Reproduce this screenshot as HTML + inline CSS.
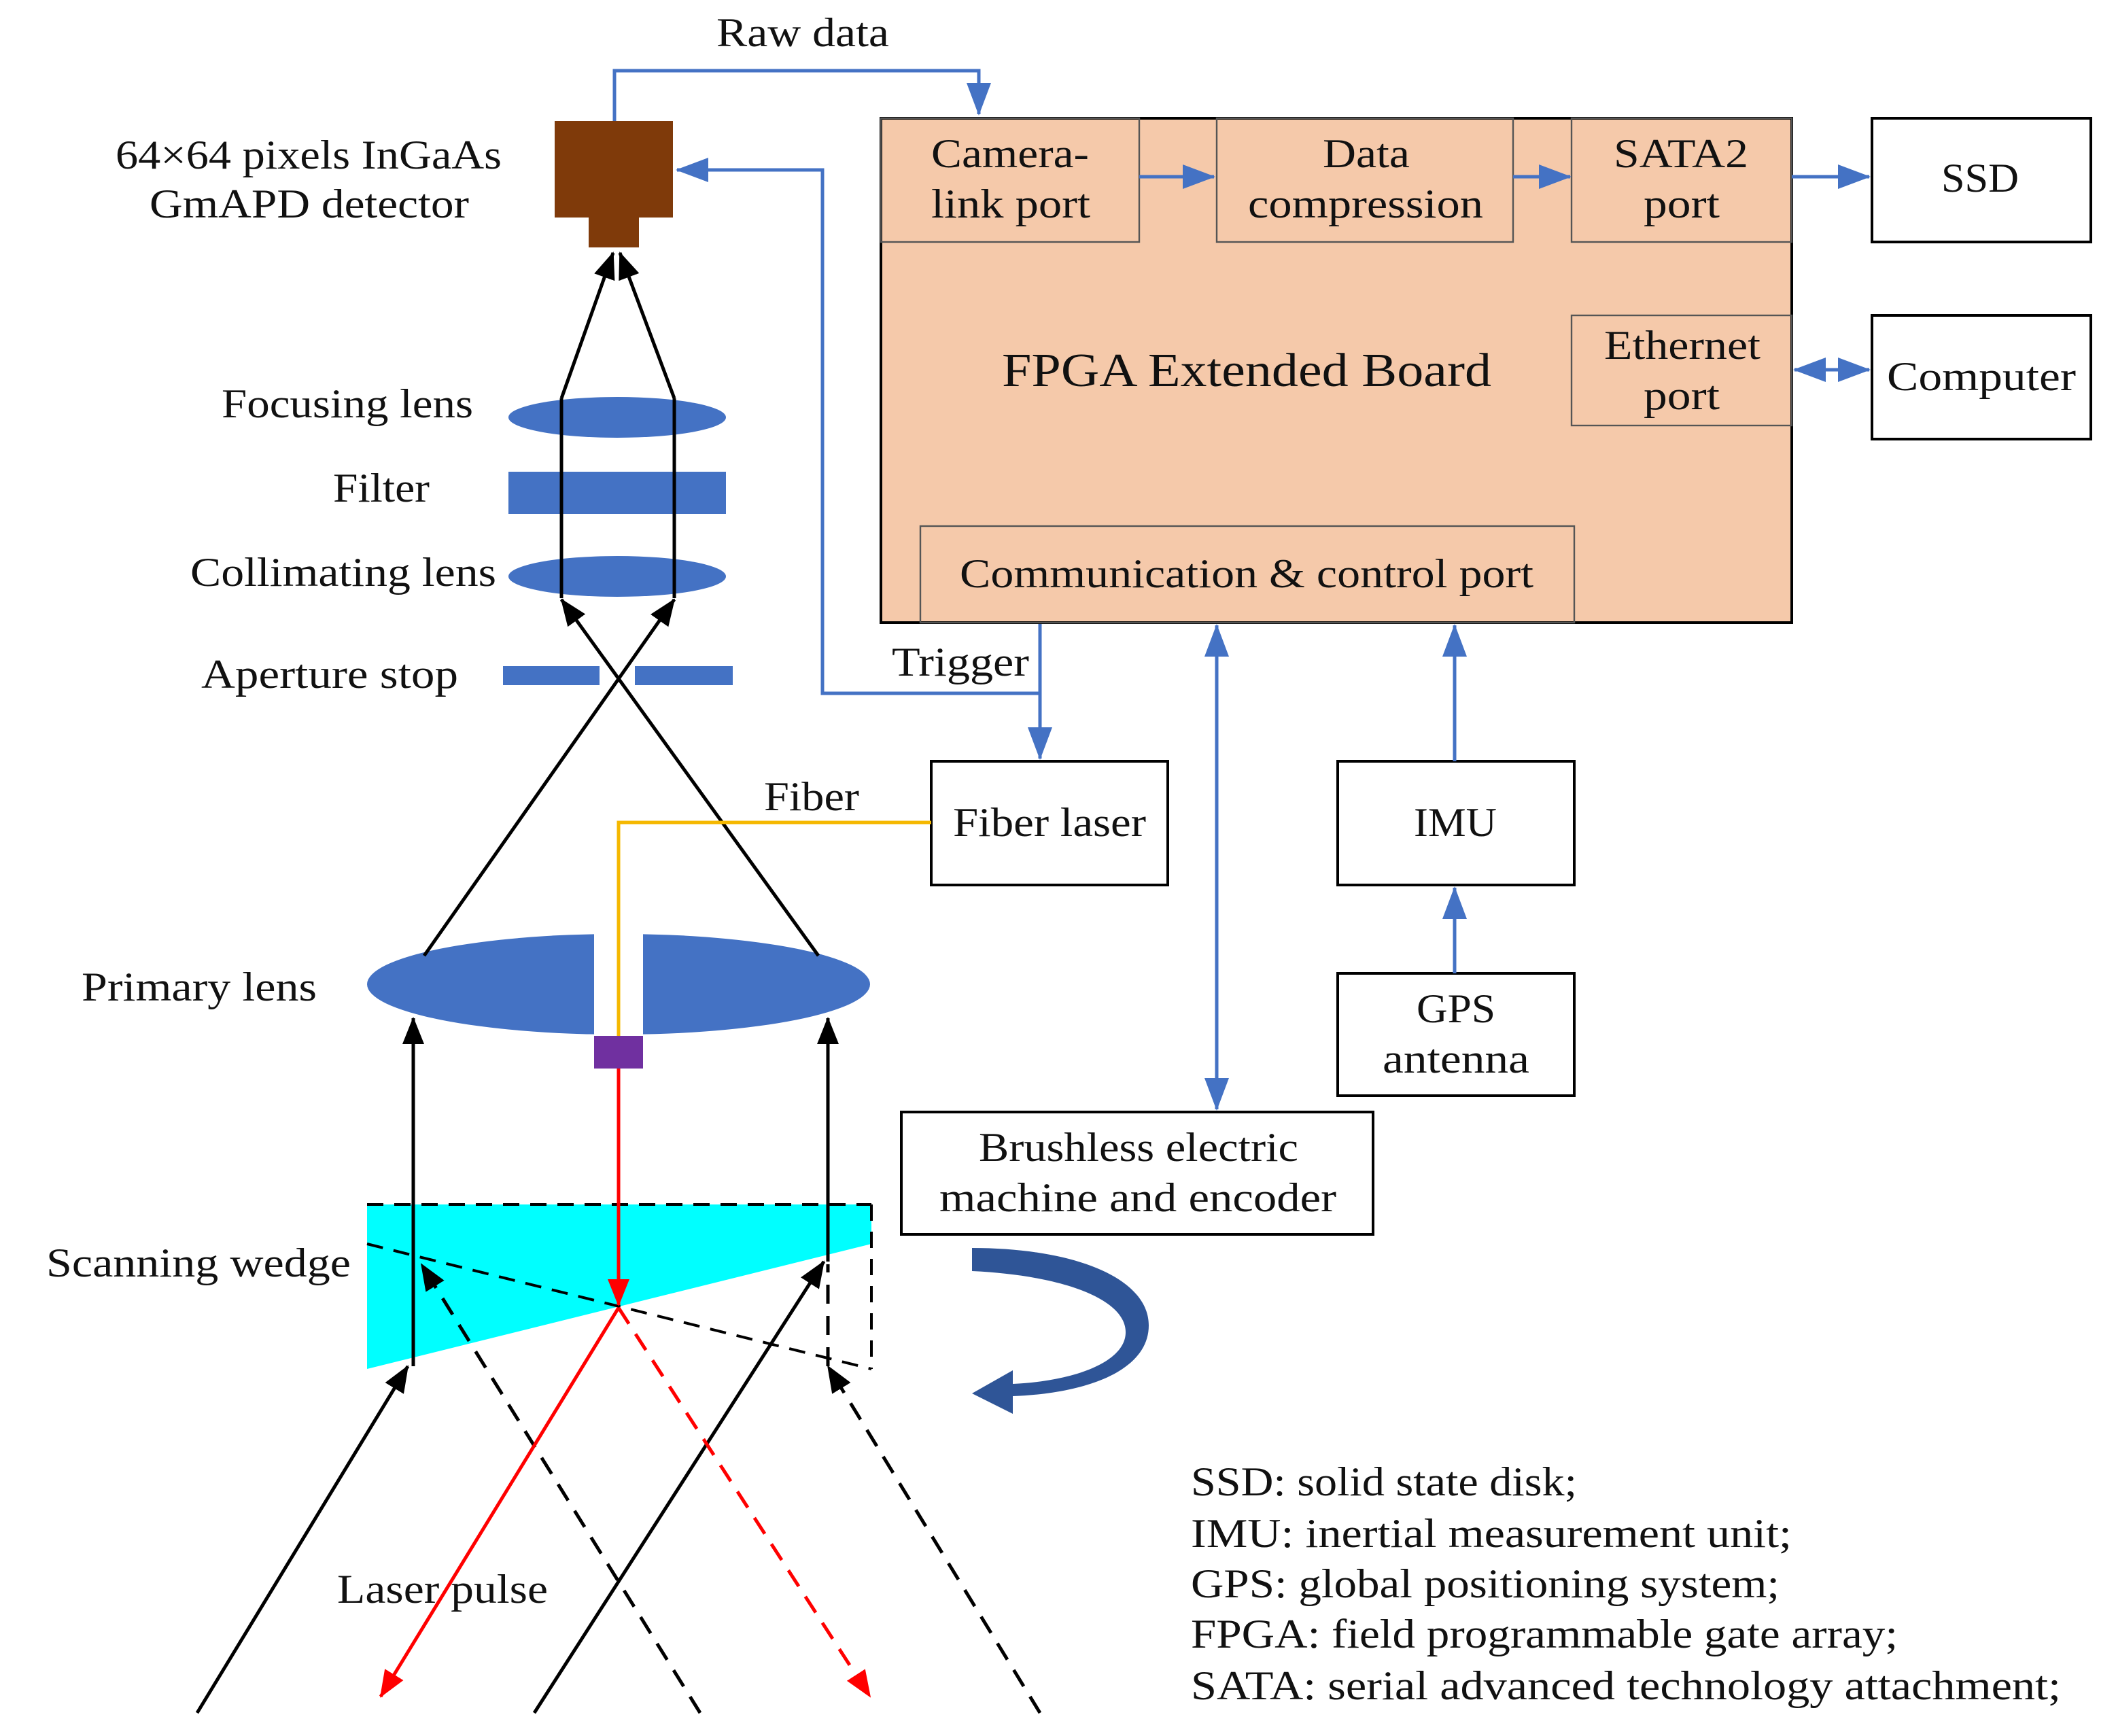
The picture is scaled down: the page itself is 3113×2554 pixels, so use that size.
<!DOCTYPE html>
<html><head><meta charset="utf-8"><style>
html,body{margin:0;padding:0;background:#fff;}
svg{display:block;}
text{font-family:"Liberation Serif",serif;font-size:30px;fill:#111;}
</style></head><body>
<svg width="3113" height="2554" viewBox="0 0 1556.5 1277" xmlns="http://www.w3.org/2000/svg">
<defs>
<marker id="abB" markerWidth="24" markerHeight="18" refX="23" refY="9" orient="auto-start-reverse" markerUnits="userSpaceOnUse"><path d="M0,0 L24,9 L0,18 z" fill="#4472c4"/></marker>
<marker id="ak" markerWidth="20" markerHeight="16" refX="19" refY="8" orient="auto" markerUnits="userSpaceOnUse"><path d="M0,0 L20,8 L0,16 z" fill="#000"/></marker>
<marker id="ar" markerWidth="20" markerHeight="16" refX="19" refY="8" orient="auto" markerUnits="userSpaceOnUse"><path d="M0,0 L20,8 L0,16 z" fill="#f00"/></marker>
</defs>

<text x="527" y="34" textLength="127" lengthAdjust="spacingAndGlyphs">Raw data</text>
<polyline points="452,90 452,52 720,52 720,84" fill="none" stroke="#4472c4" stroke-width="2.5" marker-end="url(#abB)"/>

<rect x="408" y="89" width="87" height="71" fill="#7f3a0a"/>
<rect x="433" y="160" width="37" height="22" fill="#7f3a0a"/>
<text x="85" y="124" textLength="284" lengthAdjust="spacingAndGlyphs">64×64 pixels  InGaAs</text>
<text x="110" y="160" textLength="235" lengthAdjust="spacingAndGlyphs">GmAPD detector</text>

<polyline points="765,458 765,510 605,510 605,125 498,125" fill="none" stroke="#4472c4" stroke-width="2.5" marker-end="url(#abB)"/>
<line x1="765" y1="510" x2="765" y2="558" stroke="#4472c4" stroke-width="2.5" marker-end="url(#abB)"/>
<text x="656" y="497" textLength="101" lengthAdjust="spacingAndGlyphs">Trigger</text>

<rect x="648" y="87" width="670" height="371" fill="#f5c9aa" stroke="#000" stroke-width="2"/>
<g fill="none" stroke="#555" stroke-width="1.2">
<rect x="648" y="87" width="190" height="91"/>
<rect x="895" y="87" width="218" height="91"/>
<rect x="1156" y="87" width="162" height="91"/>
<rect x="1156" y="232" width="162" height="81"/>
<rect x="677" y="387" width="481" height="71"/>
</g>
<text x="685" y="123" textLength="116" lengthAdjust="spacingAndGlyphs">Camera-</text>
<text x="685" y="160" textLength="117" lengthAdjust="spacingAndGlyphs">link port</text>
<text x="973" y="123" textLength="64" lengthAdjust="spacingAndGlyphs">Data</text>
<text x="918" y="160" textLength="173" lengthAdjust="spacingAndGlyphs">compression</text>
<text x="1187" y="123" textLength="99" lengthAdjust="spacingAndGlyphs">SATA2</text>
<text x="1209" y="160" textLength="56" lengthAdjust="spacingAndGlyphs">port</text>
<text x="1180" y="264" textLength="115" lengthAdjust="spacingAndGlyphs">Ethernet</text>
<text x="1209" y="301" textLength="56" lengthAdjust="spacingAndGlyphs">port</text>
<text x="706" y="432" textLength="422" lengthAdjust="spacingAndGlyphs">Communication &amp; control port</text>
<text x="737" y="284" textLength="360" lengthAdjust="spacingAndGlyphs" style="font-size:35px">FPGA Extended Board</text>

<line x1="838" y1="130" x2="893" y2="130" stroke="#4472c4" stroke-width="2.5" marker-end="url(#abB)"/>
<line x1="1113" y1="130" x2="1155" y2="130" stroke="#4472c4" stroke-width="2.5" marker-end="url(#abB)"/>
<line x1="1318" y1="130" x2="1375" y2="130" stroke="#4472c4" stroke-width="2.5" marker-end="url(#abB)"/>
<line x1="1320" y1="272" x2="1375" y2="272" stroke="#4472c4" stroke-width="2.5" marker-start="url(#abB)" marker-end="url(#abB)"/>

<rect x="1377" y="87" width="161" height="91" fill="#fff" stroke="#000" stroke-width="2"/>
<text x="1428" y="141" textLength="57" lengthAdjust="spacingAndGlyphs">SSD</text>
<rect x="1377" y="232" width="161" height="91" fill="#fff" stroke="#000" stroke-width="2"/>
<text x="1388" y="287" textLength="139" lengthAdjust="spacingAndGlyphs">Computer</text>

<rect x="685" y="560" width="174" height="91" fill="#fff" stroke="#000" stroke-width="2"/>
<text x="701" y="615" textLength="142" lengthAdjust="spacingAndGlyphs">Fiber laser</text>
<rect x="984" y="560" width="174" height="91" fill="#fff" stroke="#000" stroke-width="2"/>
<text x="1040" y="615" textLength="61" lengthAdjust="spacingAndGlyphs">IMU</text>
<rect x="984" y="716" width="174" height="90" fill="#fff" stroke="#000" stroke-width="2"/>
<text x="1042" y="752" textLength="58" lengthAdjust="spacingAndGlyphs">GPS</text>
<text x="1017" y="789" textLength="108" lengthAdjust="spacingAndGlyphs">antenna</text>
<rect x="663" y="818" width="347" height="90" fill="#fff" stroke="#000" stroke-width="2"/>
<text x="720" y="854" textLength="235" lengthAdjust="spacingAndGlyphs">Brushless electric</text>
<text x="691" y="891" textLength="292" lengthAdjust="spacingAndGlyphs">machine and encoder</text>

<line x1="1070" y1="560" x2="1070" y2="460" stroke="#4472c4" stroke-width="2.5" marker-end="url(#abB)"/>
<line x1="1070" y1="716" x2="1070" y2="653" stroke="#4472c4" stroke-width="2.5" marker-end="url(#abB)"/>
<line x1="895" y1="460" x2="895" y2="816" stroke="#4472c4" stroke-width="2.5" marker-start="url(#abB)" marker-end="url(#abB)"/>

<ellipse cx="454" cy="307" rx="80" ry="15" fill="#4472c4"/>
<rect x="374" y="347" width="160" height="31" fill="#4472c4"/>
<ellipse cx="454" cy="424" rx="80" ry="15" fill="#4472c4"/>
<rect x="370" y="490" width="71" height="14" fill="#4472c4"/>
<rect x="467" y="490" width="72" height="14" fill="#4472c4"/>
<ellipse cx="455" cy="724" rx="185" ry="37" fill="#4472c4"/>
<rect x="437" y="680" width="36" height="90" fill="#fff"/>

<text x="163" y="307" textLength="185" lengthAdjust="spacingAndGlyphs">Focusing lens</text>
<text x="245" y="369" textLength="71" lengthAdjust="spacingAndGlyphs">Filter</text>
<text x="140" y="431" textLength="225" lengthAdjust="spacingAndGlyphs">Collimating lens</text>
<text x="148" y="506" textLength="189" lengthAdjust="spacingAndGlyphs">Aperture stop</text>
<text x="60" y="736" textLength="173" lengthAdjust="spacingAndGlyphs">Primary lens</text>
<text x="34" y="939" textLength="224" lengthAdjust="spacingAndGlyphs">Scanning wedge</text>
<text x="562" y="596" textLength="70" lengthAdjust="spacingAndGlyphs">Fiber</text>

<!-- wedge (drawn before rays) -->
<polygon points="270,886 641,886 641,915 270,1007" fill="#00ffff"/>
<g stroke="#000" stroke-width="2" fill="none" stroke-dasharray="12,8">
<line x1="270" y1="886" x2="641" y2="886"/>
<line x1="641" y1="886" x2="641" y2="1007"/>
<line x1="270" y1="915" x2="641" y2="1007"/>
</g>

<g stroke="#000" stroke-width="2.5" fill="none">
<line x1="413" y1="293" x2="451" y2="186" marker-end="url(#ak)"/>
<line x1="496" y1="293" x2="456" y2="186" marker-end="url(#ak)"/>
<line x1="413" y1="440" x2="413" y2="293"/>
<line x1="496" y1="440" x2="496" y2="293"/>
<line x1="312" y1="703" x2="496" y2="441" marker-end="url(#ak)"/>
<line x1="602" y1="703" x2="413" y2="441" marker-end="url(#ak)"/>
<line x1="304" y1="1005" x2="304" y2="749" marker-end="url(#ak)"/>
<line x1="609" y1="928" x2="609" y2="749" marker-end="url(#ak)"/>
<line x1="145" y1="1260" x2="300" y2="1005" marker-end="url(#ak)"/>
<line x1="393" y1="1260" x2="606" y2="928" marker-end="url(#ak)"/>
</g>
<g stroke="#000" stroke-width="2.5" fill="none" stroke-dasharray="14,9">
<line x1="515" y1="1260" x2="310" y2="930" marker-end="url(#ak)"/>
<line x1="765" y1="1260" x2="609" y2="1005" marker-end="url(#ak)"/>
<line x1="609" y1="1005" x2="609" y2="930"/>
</g>

<polyline points="685,605 455,605 455,762" fill="none" stroke="#f5b800" stroke-width="2.5"/>
<rect x="437" y="762" width="36" height="24" fill="#7030a0"/>
<line x1="455" y1="786" x2="455" y2="960" stroke="#f00" stroke-width="2.5" marker-end="url(#ar)"/>
<line x1="455" y1="962" x2="280" y2="1248" stroke="#f00" stroke-width="2.5" marker-end="url(#ar)"/>
<line x1="455" y1="962" x2="640" y2="1248" stroke="#f00" stroke-width="2.5" stroke-dasharray="14,9" marker-end="url(#ar)"/>

<text x="248" y="1179" textLength="155" lengthAdjust="spacingAndGlyphs">Laser pulse</text>

<path d="M715,918 C790,918 845,940 845,975 C845,1008 800,1025 745,1027 L745,1040 L715,1025 L745,1008 L745,1018 C790,1016 828,1002 828,980 C828,955 780,938 715,935 Z" fill="#2f5597"/>

<text x="876" y="1100" textLength="284" lengthAdjust="spacingAndGlyphs">SSD: solid state disk;</text>
<text x="876" y="1138" textLength="442" lengthAdjust="spacingAndGlyphs">IMU: inertial measurement unit;</text>
<text x="876" y="1175" textLength="433" lengthAdjust="spacingAndGlyphs">GPS: global positioning system;</text>
<text x="876" y="1212" textLength="520" lengthAdjust="spacingAndGlyphs">FPGA: field programmable gate array;</text>
<text x="876" y="1250" textLength="640" lengthAdjust="spacingAndGlyphs">SATA: serial advanced technology attachment;</text>
</svg>
</body></html>
